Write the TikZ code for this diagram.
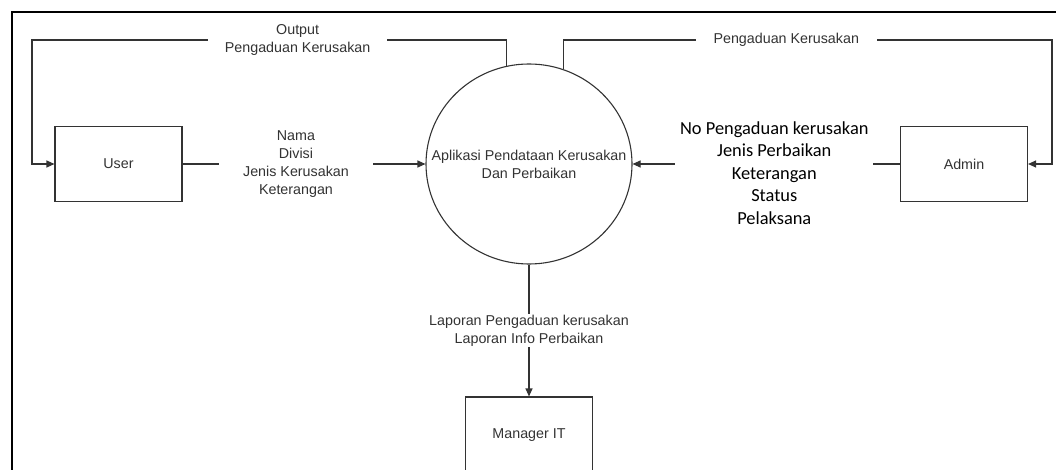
\documentclass[tikz,border=0pt]{standalone}
\usepackage{fontspec}
\setmainfont{Liberation Sans}
\newfontfamily\calibrifont{Carlito}
\usetikzlibrary{arrows.meta,shapes.geometric}
\definecolor{ink}{HTML}{333333}
\newcommand\lblfont{\fontsize{14.3}{18}\selectfont}
\newcommand\notefont{\calibrifont\fontsize{18.4}{22.5}\selectfont}
\begin{document}
\begin{tikzpicture}[x=1pt,y=-1pt,
  entity/.style={draw=ink, line width=1.1pt, minimum width=127pt,
    minimum height=75pt, inner sep=0pt, font=\lblfont, text=ink},
  process/.style={ellipse, draw=ink, line width=1.1pt, minimum width=206pt,
    minimum height=200pt, inner sep=0pt},
  flow/.style={draw=ink, line width=1.1pt, -{Triangle[length=8pt,width=7pt]}},
  lbl/.style={fill=white, align=center, font=\lblfont, text=ink, inner ysep=1pt},
]
\useasboundingbox (0,0) rectangle (1056,470);

% outer frame (top and left edges)
\draw[line width=2pt] (12,472) -- (12,12) -- (1058,12);

% process and external entities
\node[process, label={[align=center, font=\lblfont, text=ink]center:Aplikasi Pendataan Kerusakan\\Dan Perbaikan}] (app) at (529,164) {};
\node[entity] (user) at (118.5,164) {User};
\node[entity] (admin) at (964,164) {Admin};
\node[entity, minimum height=76pt] (mgr) at (529,435) {Manager IT};

% bend points of the feedback flows
\coordinate (tlc) at (32,40);
\coordinate (trc) at (1052,40);

% data flows
\draw[flow] (user) -- node[lbl, pos=0.467, inner xsep=24pt]
  {Nama\\Divisi\\Jenis Kerusakan\\Keterangan} (app);

\draw[flow] (admin) -- node[lbl, pos=0.47, inner xsep=5pt, font=\notefont, text=black, yshift=-9pt]
  {No Pengaduan kerusakan\\Jenis Perbaikan\\Keterangan\\Status\\Pelaksana} (app);

\draw[flow] (app) -- node[lbl, pos=0.5]
  {Laporan Pengaduan kerusakan\\Laporan Info Perbaikan} (mgr);

\draw[flow] (app.103.9) |- node[lbl, pos=0.72, inner xsep=17pt]
  {Output\\Pengaduan Kerusakan} (tlc) |- (user);

\draw[flow] (app.70.2) |- node[lbl, pos=0.728, inner xsep=18pt]
  {Pengaduan Kerusakan} (trc) |- (admin);
\end{tikzpicture}
\end{document}
